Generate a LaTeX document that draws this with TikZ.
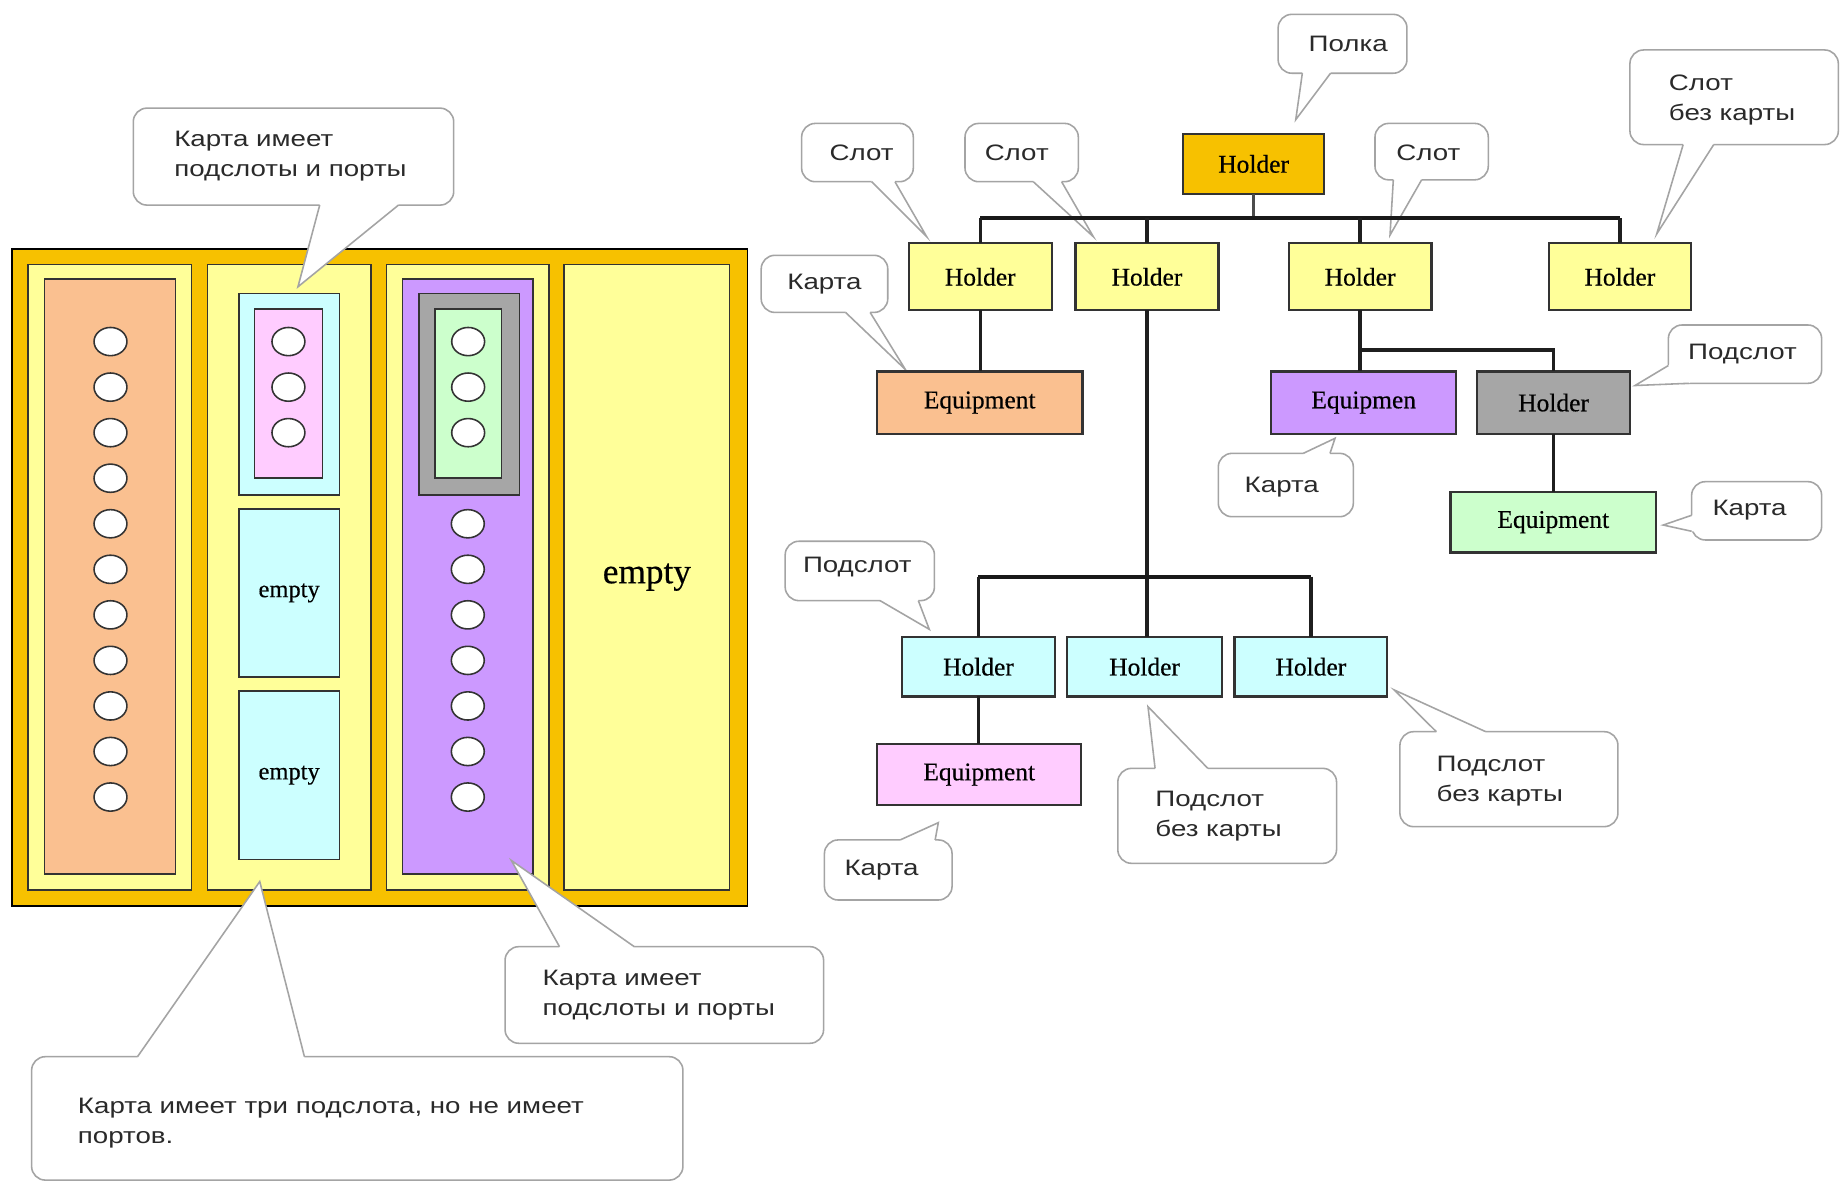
\documentclass[tikz,border=0pt]{standalone}
\usepackage{fontspec}
\setmainfont{Liberation Serif}
\newfontfamily\bubfont[FakeStretch=1.24]{Liberation Sans}
\newfontfamily\boxfont[FakeBold=0.4]{Liberation Serif}
\usetikzlibrary{calc}
\definecolor{gold}{HTML}{F7C100}
\definecolor{lyellow}{HTML}{FFFF99}
\definecolor{peach}{HTML}{FAC090}
\definecolor{lcyan}{HTML}{CCFFFF}
\definecolor{lpink}{HTML}{FFCCFF}
\definecolor{lpurple}{HTML}{CC99FF}
\definecolor{mgray}{HTML}{A6A6A6}
\definecolor{lgreen}{HTML}{CCFFCC}
\definecolor{bubline}{HTML}{A4A4A4}
\definecolor{txtgray}{HTML}{2A2A2A}
\definecolor{edgec}{HTML}{333333}
% box by corners: name, x1, y1, x2, y2, style, text
\newcommand\bx[7]{\node[#6, minimum width={(#4-#2)*0.6pt}, minimum height={(#5-#3)*0.6pt}] (#1) at ({(#2+#4)/2},{(#3+#5)/2}) {#7};}
% bubble tail: base a, tip, base b, inward shift
\newcommand\tail[4]{%
  \fill[white] ($#1+#4$) -- #1 -- #2 -- #3 -- ($#3+#4$) -- cycle;
  \draw[bubedge] #1 -- #2 -- #3;}
\begin{document}
\begin{tikzpicture}[x=0.6pt,y=-0.6pt,
  card/.style={draw=edgec, line width=0.8pt, inner sep=0pt, outer sep=0pt},
  tbox/.style={draw=edgec, line width=1.1pt, inner sep=0pt, outer sep=0pt, font=\boxfont\fontsize{13}{15}\selectfont},
  smallempty/.style={font=\boxfont\fontsize{12.5}{14}\selectfont},
  bigempty/.style={font=\boxfont\fontsize{18}{20}\selectfont},
  bubble/.style={draw=bubline, line width=0.8pt, fill=white, rounded corners=7pt, inner sep=0pt, outer sep=0pt},
  bubedge/.style={draw=bubline, line width=0.8pt, line join=miter},
  btxt/.style={font=\bubfont\fontsize{11.4}{15.3}\selectfont, text=txtgray, align=left, inner sep=0pt},
  port/.style={draw=edgec, line width=0.8pt, fill=white},
  link/.style={line width=1.7pt, draw=black!88},
  bus/.style={line width=2.1pt, draw=black!90}]
\useasboundingbox (0,0) rectangle (1568,1006);
\fill[white] (0,0) rectangle (1568,1006);

% ---------------- left panel ----------------
\bx{frame}{10}{212}{636}{771}{card, fill=gold, draw=black}{}
\bx{s1}{24}{225}{163}{757}{card, fill=lyellow}{}
\bx{s2}{176.5}{225}{315.5}{757}{card, fill=lyellow}{}
\bx{s3}{328.7}{225}{467}{757}{card, fill=lyellow}{}
\bx{s4}{480}{225}{620.7}{757}{card, fill=lyellow, bigempty}{empty}
\bx{c1}{38}{237.5}{149.3}{743.5}{card, fill=peach}{}
\bx{ss21}{203.3}{249.7}{288.7}{421}{card, fill=lcyan}{}
\bx{c2}{216.5}{263}{274.2}{406.7}{card, fill=lpink}{}
\bx{ss22}{203.3}{433}{288.7}{575.8}{card, fill=lcyan, smallempty}{empty}
\bx{ss23}{203.3}{587.8}{288.7}{731.1}{card, fill=lcyan, smallempty}{empty}
\bx{c3}{342.3}{237.5}{453.6}{743.5}{card, fill=lpurple}{}
\bx{ss31}{356.7}{249.7}{442}{421}{card, fill=mgray}{}
\bx{c4}{369.9}{263}{426.8}{406.7}{card, fill=lgreen}{}
\foreach \i in {0,...,10}
  \draw[port] (94,{290.6+38.75*\i}) ellipse [x radius=14, y radius=12];
\foreach \i in {0,1,2} {
  \draw[port] (245.4,{290.6+38.75*\i}) ellipse [x radius=14, y radius=12];
  \draw[port] (398.3,{290.6+38.75*\i}) ellipse [x radius=14, y radius=12];}
\foreach \i in {4,...,10}
  \draw[port] (398,{290.6+38.75*\i}) ellipse [x radius=14, y radius=12];

% ---------------- callouts ----------------
% left panel
\bx{bTL}{113.4}{92}{386}{174.5}{bubble}{}
\coordinate (tipTL) at (253.5,244);
\tail{(bTL.south -| 272,0)}{(tipTL)}{(bTL.south -| 339,0)}{(0,-4)}
\node[btxt, anchor=west] (tTL) at (148,133) {Карта имеет\\подслоты и порты};

\bx{bBR}{429.7}{805.4}{700.7}{887.6}{bubble}{}
\coordinate (tipBR) at (435,732);
\tail{(bBR.north -| 476,0)}{(tipBR)}{(bBR.north -| 539.6,0)}{(0,4)}
\node[btxt, anchor=west] (tBR) at (461.4,847) {Карта имеет\\подслоты и порты};

\bx{bBL}{26.9}{899}{581}{1004}{bubble}{}
\coordinate (tipBL) at (221,750);
\tail{(bBL.north -| 117,0)}{(tipBL)}{(bBL.north -| 259,0)}{(0,4)}
\node[btxt, anchor=west] (tBL) at (66,955.7) {Карта имеет три подслота, но не имеет\\портов.};

% right panel
\bx{bPolka}{1087.4}{12.2}{1197}{62.3}{bubble}{}
\coordinate (tipPolka) at (1102.4,101.8);
\tail{(bPolka.south -| 1108,0)}{(tipPolka)}{(bPolka.south -| 1132,0)}{(0,-4)}
\node[btxt] (tPolka) at (1147,37) {Полка};

\bx{bS1}{682}{105}{777}{154.6}{bubble}{}
\coordinate (tipS1) at (788.4,201.4);
\tail{(bS1.south -| 741.6,0)}{(tipS1)}{(bS1.south -| 761.4,0)}{(0,-4)}
\node[btxt] (tS1) at (733,130.4) {Слот};

\bx{bS2}{821}{105}{917.4}{154.6}{bubble}{}
\coordinate (tipS2) at (930.2,201.4);
\tail{(bS2.south -| 879.1,0)}{(tipS2)}{(bS2.south -| 903.2,0)}{(0,-4)}
\node[btxt] (tS2) at (865,130.4) {Слот};

\bx{bS3}{1169.8}{105}{1266.2}{153}{bubble}{}
\coordinate (tipS3) at (1182.6,200);
\tail{(bS3.south -| 1185.4,0)}{(tipS3)}{(bS3.south -| 1209.5,0)}{(0,-4)}
\node[btxt] (tS3) at (1215.2,130.4) {Слот};

\bx{bS4}{1386.7}{42.5}{1564}{123}{bubble}{}
\coordinate (tipS4) at (1409.5,199);
\tail{(bS4.south -| 1432,0)}{(tipS4)}{(bS4.south -| 1458,0)}{(0,-4)}
\node[btxt, anchor=west] (tS4) at (1419.6,85) {Слот\\без карты};

\bx{bK1}{647.6}{217.2}{755.3}{265.8}{bubble}{}
\coordinate (tipK1) at (770.3,314.4);
\tail{(bK1.south -| 719.4,0)}{(tipK1)}{(bK1.south -| 740.3,0)}{(0,-4)}
\node[btxt] (tK1) at (701.4,241.5) {Карта};

\bx{bP1}{1419.4}{276.5}{1549.8}{326.1}{bubble}{}
\coordinate (tipP1) at (1391,328);
\tail{(bP1.west |- 0,311)}{(tipP1)}{(bP1.south -| 1437,0)}{(3,-3)}
\node[btxt] (tP1) at (1482.5,300.8) {Подслот};

\bx{bK2}{1036.5}{385.7}{1151.4}{439.6}{bubble}{}
\coordinate (tipK2) at (1135.8,372.9);
\tail{(bK2.north -| 1108.8,0)}{(tipK2)}{(bK2.north -| 1131.5,0)}{(0,4)}
\node[btxt] (tK2) at (1090.5,414.7) {Карта};

\bx{bK3}{1439.2}{409.8}{1549.8}{459.4}{bubble}{}
\coordinate (tipK3) at (1415,446.7);
\tail{(bK3.west |- 0,438.4)}{(tipK3)}{(bK3.west |- 0,452)}{(4,0)}
\node[btxt] (tK3) at (1488.5,434.4) {Карта};

\bx{bP2}{668}{460.5}{795}{511}{bubble}{}
\coordinate (tipP2) at (790.6,535.4);
\tail{(bP2.south -| 748.7,0)}{(tipP2)}{(bP2.south -| 781.3,0)}{(0,-4)}
\node[btxt] (tP2) at (729.4,482.7) {Подслот};

\bx{bK4}{701.4}{714.6}{810}{765.7}{bubble}{}
\coordinate (tipK4) at (798.3,699.9);
\tail{(bK4.north -| 765.8,0)}{(tipK4)}{(bK4.north -| 795.6,0)}{(0,4)}
\node[btxt] (tK4) at (750,740) {Карта};

\bx{bP3}{951}{653.7}{1137.1}{734.5}{bubble}{}
\coordinate (tipP3) at (976.7,601.2);
\tail{(bP3.north -| 982.7,0)}{(tipP3)}{(bP3.north -| 1027.6,0)}{(0,4)}
\node[btxt, anchor=west] (tP3) at (982.7,694) {Подслот\\без карты};

\bx{bP4}{1191}{622.5}{1376.5}{703.3}{bubble}{}
\coordinate (tipP4) at (1186.2,587);
\tail{(bP4.north -| 1222,0)}{(tipP4)}{(bP4.north -| 1264,0)}{(0,4)}
\node[btxt, anchor=west] (tP4) at (1222,664.3) {Подслот\\без карты};

% ---------------- tree ----------------
\bx{root}{1006.7}{113.9}{1126.4}{165}{tbox, fill=gold}{Holder}
\bx{h1}{773}{207}{895}{264}{tbox, fill=lyellow}{Holder}
\bx{h2}{915}{207}{1036.6}{264}{tbox, fill=lyellow}{Holder}
\bx{h3}{1096.4}{207}{1217.9}{264}{tbox, fill=lyellow}{Holder}
\bx{h4}{1317.5}{207}{1438.8}{264}{tbox, fill=lyellow}{Holder}
\bx{e1}{746}{316}{921}{369}{tbox, fill=peach}{Equipment}
\bx{e2}{1081.5}{316}{1238.9}{369}{tbox, fill=lpurple}{Equipmen}
\bx{g1}{1256.8}{316}{1386.7}{369}{tbox, fill=mgray}{Holder}
\bx{e3}{1234}{418.5}{1409}{470}{tbox, fill=lgreen}{Equipment}
\bx{k1}{767.2}{542}{897.7}{592.5}{tbox, fill=lcyan}{Holder}
\bx{k2}{908}{542}{1039.6}{592.5}{tbox, fill=lcyan}{Holder}
\bx{k3}{1050.3}{542}{1180.2}{592.5}{tbox, fill=lcyan}{Holder}
\bx{e4}{746.3}{633}{919.9}{685}{tbox, fill=lpink}{Equipment}

\coordinate (busA) at (0,185.7);
\coordinate (busB) at (0,297.7);
\coordinate (busC) at (0,490.6);
\draw[line width=1.5pt, draw=black!70] (root.south) -- (root.south |- busA);
\draw[bus] (h1.north |- busA) -- (h4.north |- busA);
\foreach \n in {h1,h2,h3,h4} \draw[link] (\n.north |- busA) -- (\n.north);
\draw[link] (h1.south) -- (h1.south |- e1.north);
\draw[link] (h3.south) -- (h3.south |- e2.north);
\draw[link] (h3.south |- busB) -| (g1.north);
\draw[link] (g1.south) -- (g1.south |- e3.north);
\draw[link] (h2.south) -- (h2.south |- k2.north);
\draw[bus] (k1.north |- busC) -- (k3.north |- busC);
\draw[link] (k1.north |- busC) -- (k1.north);
\draw[link] (k3.north |- busC) -- (k3.north);
\draw[link] (k1.south) -- (k1.south |- e4.north);
\end{tikzpicture}
\end{document}
